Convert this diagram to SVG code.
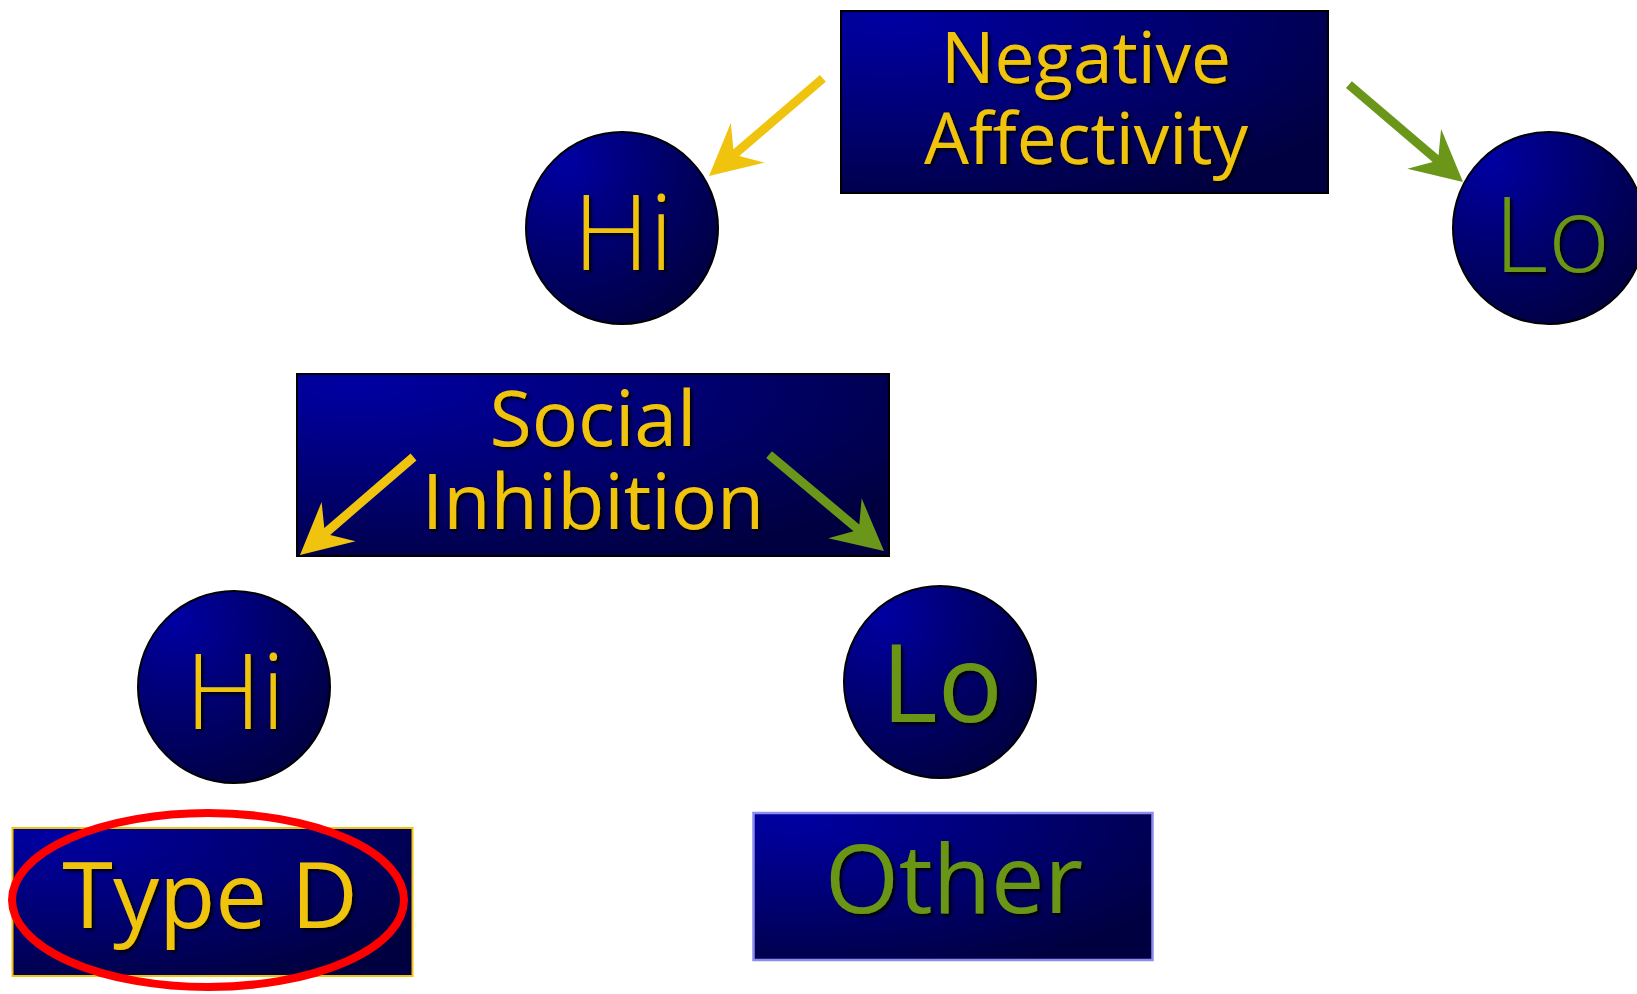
<svg xmlns="http://www.w3.org/2000/svg" width="1637" height="994" viewBox="0 0 1637 994">
<style>
.box{stroke:#000;stroke-width:2}
.circ{stroke:#000;stroke-width:2}
.t{font-family:"Open Sans","Noto Sans","Liberation Sans",sans-serif;text-anchor:middle;filter:url(#sh)}
.y{fill:#f0c30f}
.g{fill:#6a9619}
.light{font-weight:300}
.ay{fill:#f0c30f}
.ag{fill:#6a9619}
</style>
<defs>
<radialGradient id="bg" cx="0.1" cy="0.05" r="1.1" gradientUnits="objectBoundingBox">
<stop offset="0" stop-color="#0000a2"/>
<stop offset="0.55" stop-color="#00006e"/>
<stop offset="1" stop-color="#000040"/>
</radialGradient>
<radialGradient id="cg" cx="0.2" cy="0.15" r="0.95" gradientUnits="objectBoundingBox">
<stop offset="0" stop-color="#0000a2"/>
<stop offset="0.55" stop-color="#00006a"/>
<stop offset="1" stop-color="#000042"/>
</radialGradient>
<filter id="sh" x="-10%" y="-10%" width="130%" height="130%">
<feDropShadow dx="2.5" dy="2.5" stdDeviation="1.5" flood-color="#000" flood-opacity="0.9"/>
</filter>
<path id="arr" d="M0,0 L-51,-26 L-36,-4.5 L-150,-4.5 L-150,4.5 L-36,4.5 L-51,26 Z"/>
</defs>
<rect width="1637" height="994" fill="#fff"/>

<g id="node-negative-affectivity">
<rect class="box" x="841" y="11" width="487" height="182" fill="url(#bg)"/>
<text class="t y" font-size="71"><tspan x="1086" y="83">Negative</tspan><tspan x="1086" y="164">Affectivity</tspan></text>
</g>

<g id="node-hi-1">
<circle class="circ" cx="622" cy="228" r="96" fill="url(#cg)"/>
<text class="t y light" x="623" y="270" font-size="106">Hi</text>
</g>

<g id="node-lo-1">
<circle class="circ" cx="1549" cy="228" r="96" fill="url(#cg)"/>
<text class="t g light" x="1552" y="272" font-size="106">Lo</text>
</g>

<g id="node-social-inhibition">
<rect class="box" x="297" y="374" width="592" height="182" fill="url(#bg)"/>
<text class="t y" font-size="77"><tspan x="593" y="446">Social</tspan><tspan x="593" y="529">Inhibition</tspan></text>
</g>

<g id="node-hi-2">
<circle class="circ" cx="234" cy="687" r="96" fill="url(#cg)"/>
<text class="t y light" x="235" y="729" font-size="106">Hi</text>
</g>

<g id="node-lo-2">
<circle class="circ" cx="940" cy="682" r="96" fill="url(#cg)"/>
<text class="t g" x="942" y="722" font-size="108">Lo</text>
</g>

<g id="node-type-d">
<rect x="12.5" y="828" width="400" height="148" fill="url(#bg)" stroke="#f0c30f" stroke-width="2"/>
<text class="t y" x="210" y="928" font-size="92">Type D</text>
<ellipse cx="208" cy="900" rx="196" ry="87" fill="none" stroke="#ff0000" stroke-width="8"/>
</g>

<g id="node-other">
<rect x="753.5" y="813" width="399" height="147" fill="url(#bg)" stroke="#8c8cf0" stroke-width="2.5"/>
<text class="t g" x="954" y="913" font-size="95">Other</text>
</g>

<g id="connectors">
<use href="#arr" class="ay" transform="translate(709,176) rotate(139.4)"/>
<use href="#arr" class="ag" transform="translate(1463,182) rotate(40.5)"/>
<use href="#arr" class="ay" transform="translate(300,555) rotate(139.2)"/>
<use href="#arr" class="ag" transform="translate(884,551) rotate(40.0)"/>
</g>
</svg>
